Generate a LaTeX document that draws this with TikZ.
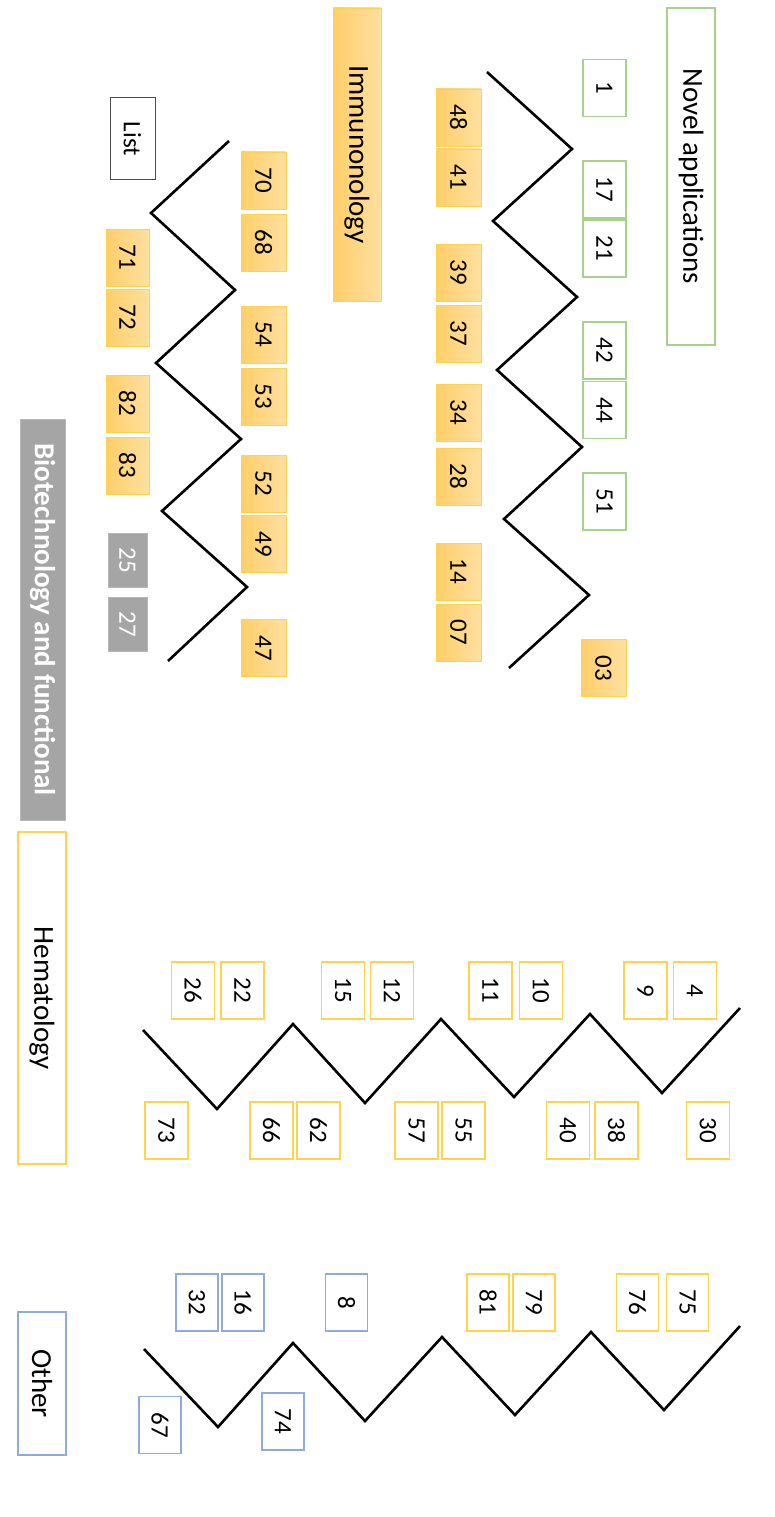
\documentclass[tikz,border=0pt]{standalone}
\usepackage{fontspec}
\setmainfont{Carlito}
\usepackage{xcolor}
\usepackage{tikz}
\usetikzlibrary{positioning}

\definecolor{novgreen}{HTML}{A9D18E}
\definecolor{immdark}{HTML}{FFCE69}
\definecolor{immlight}{HTML}{FFE0A0}
\definecolor{immedge}{HTML}{FFD24D}
\definecolor{hemyellow}{HTML}{FFD34D}
\definecolor{othblue}{HTML}{8FAADC}
\definecolor{biogray}{HTML}{A5A5A5}

\begin{document}
\begin{tikzpicture}[
  x=1pt, y=-1pt,
  cell/.style={rectangle, draw, rotate=-90, inner sep=0pt, minimum width=57pt, minimum height=43pt, font=\fontsize{25}{28}\selectfont},
  novcell/.style={cell, draw=novgreen, line width=1.2pt},
  immcell/.style={cell, draw=immedge, line width=0.8pt, left color=immdark, right color=immlight, minimum height=45pt},
  hemcell/.style={cell, draw=hemyellow, line width=1.2pt},
  othcell/.style={cell, draw=othblue, line width=1.2pt, minimum height=42pt},
  biocell/.style={cell, draw=biogray!80, fill=biogray, text=white, minimum width=54pt, minimum height=39pt},
  title/.style={rectangle, draw, rotate=-90, inner sep=0pt, minimum height=48pt, font=\fontsize{29}{32}\selectfont},
  zig/.style={line width=2.6pt, line join=miter}
]
\useasboundingbox (0,0) rectangle (774,1517);

% Titles
\node[title, draw=novgreen, line width=1.2pt, minimum width=337pt] (novel) at (691,176.5) {Novel applications};
\node[title, draw=immedge, left color=immdark, right color=immlight, minimum width=293pt] (immuno) at (357,154.5) {Immunonology};
\node[title, draw=black!70, line width=1pt, minimum width=82pt, minimum height=45pt, font=\fontsize{25}{28}\selectfont] (list) at (132.5,139) {List};
\node[title, draw=biogray!80, fill=biogray, text=white, minimum width=401pt, minimum height=45pt, font=\fontsize{29}{32}\selectfont\bfseries] (biotech) at (42.5,619.5) {Biotechnology and functional};
\node[title, draw=hemyellow, line width=1.2pt, minimum width=332pt] (hema) at (42,998) {Hematology};
\node[title, draw=othblue, line width=1.2pt, minimum width=143pt] (other) at (42,1383.5) {Other};

% Zigzags
\draw[zig] (487,72) -- (572,149) -- (493,221) -- (577,297) -- (497,370) -- (582,447) -- (504,519) -- (589,595) -- (509,668);
\draw[zig] (229,141) -- (151,213) -- (235,290) -- (156,363) -- (241,439) -- (162,511) -- (247,587) -- (168,661);
\draw[zig] (143,1030) -- (217,1109) -- (293,1024) -- (365,1103) -- (441,1019) -- (514,1097) -- (590,1014) -- (662,1093) -- (740,1008);
\draw[zig] (144,1349) -- (218,1427) -- (293,1343) -- (365,1421) -- (442,1337) -- (515,1415) -- (591,1332) -- (664,1410) -- (740,1326);

% Novel applications
\node[novcell] (n1) at (604.5,88) {1};
\node[novcell] (n17) at (604.5,189.5) {17};
\node[novcell] (n21) at (604.5,248.5) {21};
\node[novcell] (n42) at (604.5,350.5) {42};
\node[novcell] (n44) at (604.5,410) {44};
\node[novcell] (n51) at (604.5,501.5) {51};
\node[immcell] (n03) at (603.5,668) {03};

% Immunonology, upper row
\node[immcell] (n48) at (458.5,117.5) {48};
\node[immcell] (n41) at (458.5,177.5) {41};
\node[immcell] (n39) at (458.5,272.5) {39};
\node[immcell] (n37) at (458.5,333.5) {37};
\node[immcell] (n34) at (458.5,412.5) {34};
\node[immcell] (n28) at (458.5,476.5) {28};
\node[immcell] (n14) at (458.5,571.5) {14};
\node[immcell] (n07) at (458.5,632.5) {07};

% Immunonology, lower row
\node[immcell] (n70) at (263.5,180.5) {70};
\node[immcell] (n68) at (263.5,242.5) {68};
\node[immcell] (n54) at (263.5,334.5) {54};
\node[immcell] (n53) at (263.5,396.5) {53};
\node[immcell] (n52) at (263.5,483.5) {52};
\node[immcell] (n49) at (263.5,544) {49};
\node[immcell] (n47) at (263.5,648) {47};

% List
\node[immcell, minimum height=43pt] (n71) at (127.5,257.5) {71};
\node[immcell, minimum height=43pt] (n72) at (127.5,317.5) {72};
\node[immcell, minimum height=43pt] (n82) at (127.5,403.5) {82};
\node[immcell, minimum height=43pt] (n83) at (127.5,465.5) {83};
\node[biocell] (n25) at (127.5,560) {25};
\node[biocell] (n27) at (127.5,624) {27};

% Hematology
\node[hemcell] (n26) at (193,990.5) {26};
\node[hemcell] (n22) at (242.5,990.5) {22};
\node[hemcell] (n15) at (343,990.5) {15};
\node[hemcell] (n12) at (392,990.5) {12};
\node[hemcell] (n11) at (490.5,990.5) {11};
\node[hemcell] (n10) at (541,990.5) {10};
\node[hemcell] (n9) at (645.5,990.5) {9};
\node[hemcell] (n4) at (695,990.5) {4};
\node[hemcell] (n73) at (166.5,1130.5) {73};
\node[hemcell] (n66) at (271.5,1130.5) {66};
\node[hemcell] (n62) at (318.5,1130.5) {62};
\node[hemcell] (n57) at (416.5,1130.5) {57};
\node[hemcell] (n55) at (463.5,1130.5) {55};
\node[hemcell] (n40) at (568,1130.5) {40};
\node[hemcell] (n38) at (616.5,1130.5) {38};
\node[hemcell] (n30) at (708,1130.5) {30};

% Other
\node[othcell] (n32) at (197,1302.5) {32};
\node[othcell] (n16) at (243,1302.5) {16};
\node[othcell] (n8) at (346.5,1302.5) {8};
\node[hemcell, minimum height=42pt] (n81) at (488,1302.5) {81};
\node[hemcell, minimum height=42pt] (n79) at (534,1302.5) {79};
\node[hemcell, minimum height=42pt] (n76) at (637.5,1302.5) {76};
\node[hemcell, minimum height=42pt] (n75) at (687.5,1302.5) {75};
\node[othcell] (n67) at (160,1425) {67};
\node[othcell] (n74) at (283,1421.5) {74};

\end{tikzpicture}
\end{document}
